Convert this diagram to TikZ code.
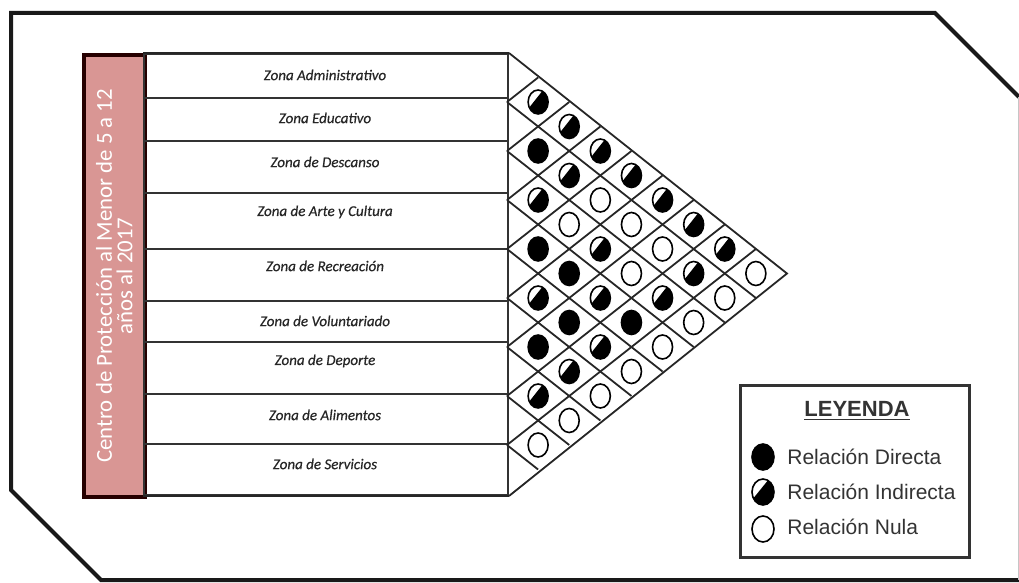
\documentclass[tikz,border=0pt]{standalone}
\usepackage{fontspec}
\setmainfont{Carlito}
\newfontfamily\zonefont[ItalicFeatures={FakeBold=0.5}]{Carlito}
\newfontfamily\legendfont{Liberation Sans}
\usepackage{tikz}
\usetikzlibrary{shapes.geometric,positioning,calc}
\definecolor{zonepink}{HTML}{D99694}

\begin{document}
\begin{tikzpicture}[x=0.5pt, y=-0.5pt]
\tikzset{
  frame/.style={draw=black!90, line width=2pt, line join=miter},
  rowbox/.style={draw=black!80, line width=1pt, minimum width=182pt, inner sep=0pt, anchor=north west},
  rowtext/.style={text=black!85, font=\zonefont\itshape\fontsize{7.5}{9}\selectfont},
  grid/.style={draw=black!85, line width=0.9pt},
  rel/.style={ellipse, draw=black, line width=0.8pt, minimum width=10pt, minimum height=12pt, inner sep=0pt},
  relD/.style={rel, fill=black},
  relN/.style={rel, fill=white},
  relI/.style={rel, fill=white, path picture={
      \fill[black] ([xshift=-2.5pt]path picture bounding box.north east) -- (path picture bounding box.north east)
        -- (path picture bounding box.south east) -- (path picture bounding box.south west)
        -- ([yshift=2.5pt]path picture bounding box.south west) -- cycle;}},
  legsym/.style={minimum width=11pt, minimum height=13pt},
  legtext/.style={anchor=west, inner sep=0pt, text=black!80, font=\legendfont\fontsize{10.5}{12}\selectfont},
}
\useasboundingbox (0,0) rectangle (1019,583);

% Outer frame
\draw[frame] (1019,97) -- (935,13) -- (11,13) -- (11,490) -- (101,580) -- (1019,580);
\draw[gray!45, line width=0.5pt] (1018,97) -- (1018,580);

% Centre column
\node (centro) [draw=black!85!red, line width=1.8pt, fill=zonepink, minimum width=30.5pt, minimum height=221pt, inner sep=0pt, anchor=north west] at (82,53) {};
\node (centrotext) [rotate=90, text=white, align=center, font=\fontsize{11.4}{10.2}\selectfont] at (centro.center) {Centro de Protección al Menor de 5 a 12\\años al 2017};

% Zones
\foreach \top/\bot/\ly/\txt [count=\i] in {53/97/75/Zona Administrativo, 97/140/118/Zona Educativo,
    140/192/162/Zona de Descanso, 192/248/212/Zona de Arte y Cultura, 248/300/266/Zona de Recreación,
    300/341/321/Zona de Voluntariado, 341/393/361/Zona de Deporte, 393/443/415/Zona de Alimentos,
    443/494/464/Zona de Servicios}{
  \node (row\i) [rowbox, minimum height={(\bot-\top)*0.5pt}] at (143,\top) {};
  \node (zone\i) [rowtext] at (325,\ly) {\txt};
}
\draw[draw=black!85, line width=1.4pt] (row1.north west) -- (row1.north east);
\draw[draw=black!85, line width=1.4pt] (row9.south west) -- (row9.south east);

% Relation matrix
\coordinate (apex) at (787,273.5);
\draw[grid] (row1.north east) -- (apex) -- (row9.south east);
\foreach \k in {1,...,8}{
  \draw[grid] (507,{53+49*\k}) -- ++({(9-\k)*31.111},{(9-\k)*24.5});
  \draw[grid] (507,{53+49*\k}) -- ++({\k*31.111},{-\k*24.5});
}
\foreach \i/\j/\r in {1/2/I, 2/3/D, 3/4/I, 4/5/D, 5/6/I, 6/7/D, 7/8/I, 8/9/N,
    1/3/I, 2/4/I, 3/5/N, 4/6/D, 5/7/D, 6/8/I, 7/9/N,
    1/4/I, 2/5/N, 3/6/I, 4/7/I, 5/8/I, 6/9/N,
    1/5/I, 2/6/N, 3/7/N, 4/8/D, 5/9/N,
    1/6/I, 2/7/N, 3/8/I, 4/9/N,
    1/7/I, 2/8/I, 3/9/N,
    1/8/I, 2/9/N,
    1/9/N}{
  \node (r\i\j) [rel\r] at ({507+(\j-\i)*31.111},{53+(\i+\j-1)*24.5}) {};
}

% Legend
\node (legend) [draw=black!80, line width=1.3pt, minimum width=114.5pt, minimum height=86pt, inner sep=0pt, anchor=north west] at (739,384) {};
\node (leytitle) [text=black!80, font=\legendfont\bfseries\fontsize{11}{13}\selectfont] at (857,411) {\underline{LEYENDA}};
\node (symD) [relD, legsym] at (763,457) {};
\node (symI) [relI, legsym] at (763,492) {};
\node (symN) [relN, legsym] at (763,529) {};
\node (txtD) [legtext] at (787,457) {Relación Directa};
\node (txtI) [legtext] at (787,492) {Relación Indirecta};
\node (txtN) [legtext] at (787,527) {Relación Nula};

\end{tikzpicture}
\end{document}
